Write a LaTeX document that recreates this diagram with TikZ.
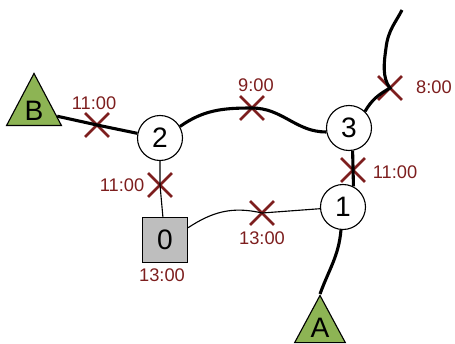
\documentclass[tikz,border=0pt]{standalone}
\usepackage{fontspec}
\setmainfont{Liberation Sans}
\usetikzlibrary{shapes.geometric,shapes.misc}
\definecolor{darkred}{RGB}{125,30,30}
\definecolor{leafgreen}{RGB}{141,180,84}
\definecolor{boxgray}{RGB}{190,190,190}
\tikzset{
  stop/.style={circle,draw,line width=0.8pt,fill=white,minimum size=32pt,inner sep=0pt,font=\fontsize{20}{20}\selectfont},
  depot/.style={rectangle,draw,line width=0.8pt,fill=boxgray,minimum size=32pt,inner sep=0pt,font=\fontsize{20}{20}\selectfont},
  terminal/.style={isosceles triangle,shape border rotate=90,isosceles triangle stretches,
    minimum width=39pt,minimum height=37pt,inner sep=0pt,draw,line width=0.8pt,fill=leafgreen,anchor=apex,
    font=\fontsize{20}{20}\selectfont},
  xmark/.style={cross out,draw=darkred,line width=2pt,minimum size=15pt,inner sep=0pt},
  timelbl/.style={text=darkred,font=\fontsize{13}{13}\selectfont},
  mainline/.style={line width=2.2pt},
  sideline/.style={line width=0.8pt}
}
\begin{document}
\begin{tikzpicture}[x=0.025cm,y=-0.025cm]
  \useasboundingbox (0,0) rectangle (455,343);

  \node[stop] (n2) at (160,138) {2};
  \node[stop] (n3) at (349,128) {3};
  \node[stop] (n1) at (343,207) {1};
  \node[depot] (n0) at (165,240) {0};
  \node[terminal] (tB) at (34,72) {B};
  \node[terminal,minimum height=33.5pt,minimum width=36pt] (tA) at (320,294) {\raisebox{2pt}{A}};
  \coordinate (top) at (402,10);

  \node[xmark] (xB2) at (97,125) {};
  \node[xmark] (x23) at (252,108) {};
  \node[xmark] (x3t) at (390,88) {};
  \node[xmark] (x31) at (353,170) {};
  \node[xmark] (x20) at (160,185) {};
  \node[xmark] (x01) at (262,213) {};

  \draw[mainline] (tB) -- (xB2.center) -- (n2);
  \draw[mainline] (n2.30) to[out=35,in=180] (x23.center) to[out=0,in=180] (n3.190);
  \draw[mainline] (n3.46) to[out=60,in=210] (x3t.center)
    .. controls (382,78) and (384,62) .. (386,48) .. controls (388,30) and (396,22) .. (top);
  \draw[mainline] (n3.-81) -- (n1.63);
  \draw[mainline] (n1.-95) to[out=-95,in=70] (tA.apex);
  \draw[sideline] (n2) -- (x20.center) -- (n0);
  \draw[sideline] (n0.28) .. controls (212,212) and (232,206) .. (x01.center) -- (n1);

  \node[timelbl] at (94,103) {11:00};
  \node[timelbl] at (256,85) {9:00};
  \node[timelbl] at (434,87) {8:00};
  \node[timelbl] at (395,172) {11:00};
  \node[timelbl] at (122,185) {11:00};
  \node[timelbl] at (262,238) {13:00};
  \node[timelbl] at (162,275) {13:00};
\end{tikzpicture}
\end{document}
